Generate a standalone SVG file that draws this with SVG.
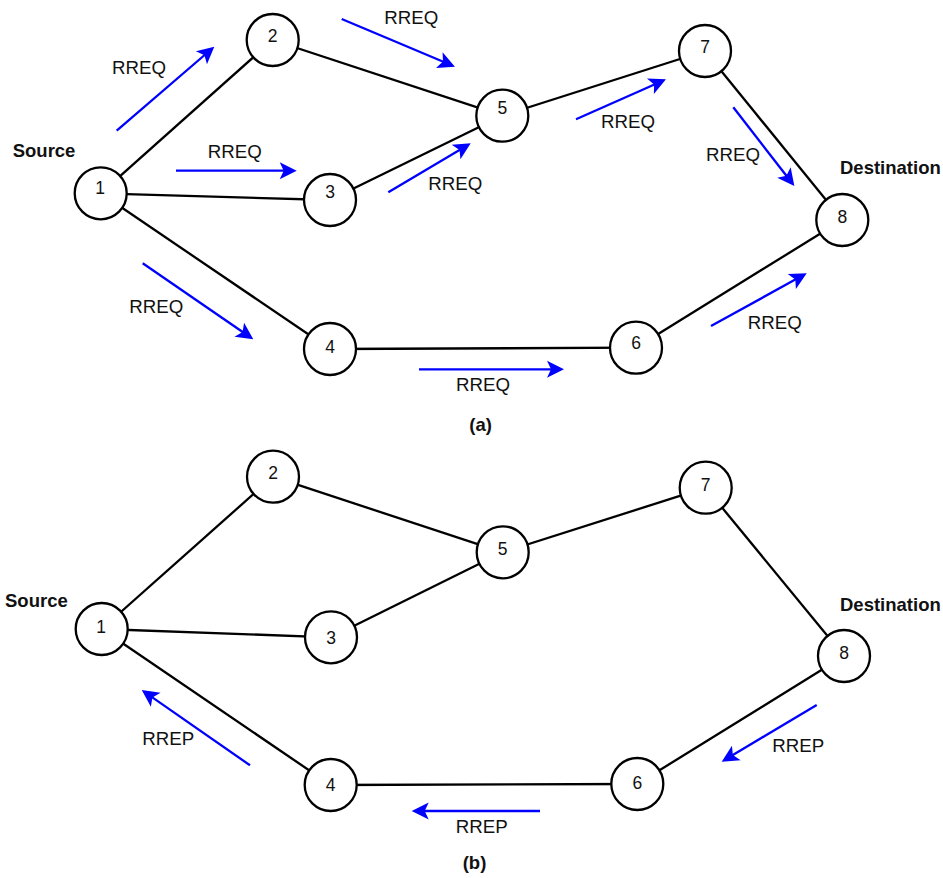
<svg xmlns="http://www.w3.org/2000/svg" width="943" height="878" viewBox="0 0 943 878">
  <style>
    .link { stroke: #000; stroke-width: 2.3; fill: none; }
    .msg { stroke: #0000FF; stroke-width: 2.3; fill: none; marker-end: url(#head); }
    .node circle { fill: #fff; stroke: #000; stroke-width: 2.3; }
    .node text { font-family: "Liberation Sans", Arial, sans-serif; font-size: 17.5px; fill: #111; text-anchor: middle; }
    .lbl { font-family: "Liberation Sans", Arial, sans-serif; font-size: 18.7px; fill: #111; }
    .role { font-family: "Liberation Sans", Arial, sans-serif; font-size: 18.5px; font-weight: bold; fill: #111; }
  </style>
  <defs>
    <marker id="head" markerUnits="userSpaceOnUse" orient="auto" refX="0" refY="0" markerWidth="20" markerHeight="20" viewBox="-6 -10 20 20" overflow="visible">
      <path d="M12,0 L-5,-8.5 L-1,0 L-5,8.5 Z" fill="#0000FF"/>
    </marker>
  </defs>
  <rect width="943" height="878" fill="#fff"/>

  <!-- (a) route request flooding -->
  <g id="links-a">
    <line class="link" x1="100.7" y1="193.3" x2="272.7" y2="40"/>
    <line class="link" x1="100.7" y1="193.3" x2="330" y2="200"/>
    <line class="link" x1="100.7" y1="193.3" x2="330" y2="349"/>
    <line class="link" x1="272.7" y1="40" x2="502.3" y2="115.7"/>
    <line class="link" x1="330" y1="200" x2="502.3" y2="115.7"/>
    <line class="link" x1="502.3" y1="115.7" x2="705" y2="51"/>
    <line class="link" x1="705" y1="51" x2="842.3" y2="220"/>
    <line class="link" x1="330" y1="349" x2="636" y2="347.7"/>
    <line class="link" x1="636" y1="347.7" x2="842.3" y2="220"/>
  </g>
  <g id="messages-a">
    <line class="msg" x1="116.7" y1="130.7" x2="205.2" y2="54.5"/>
    <line class="msg" x1="176" y1="170.7" x2="284.7" y2="170.7"/>
    <line class="msg" x1="341.7" y1="19" x2="443.9" y2="62.0"/>
    <line class="msg" x1="388.3" y1="192.3" x2="460.4" y2="149.4"/>
    <line class="msg" x1="576" y1="119.3" x2="655.0" y2="84.2"/>
    <line class="msg" x1="733.3" y1="107.3" x2="787.0" y2="176.5"/>
    <line class="msg" x1="142.7" y1="263.3" x2="243.4" y2="332.5"/>
    <line class="msg" x1="419" y1="369.3" x2="552" y2="369.3"/>
    <line class="msg" x1="711" y1="326" x2="796.2" y2="279.1"/>
  </g>
  <g id="nodes-a">
    <g id="a-n1" class="node"><circle cx="100.7" cy="193.3" r="26"/><text x="100" y="194.3">1</text></g>
    <g id="a-n2" class="node"><circle cx="272.7" cy="40" r="26"/><text x="272.7" y="42.3">2</text></g>
    <g id="a-n3" class="node"><circle cx="330" cy="200" r="26"/><text x="330" y="198">3</text></g>
    <g id="a-n4" class="node"><circle cx="330" cy="349" r="26"/><text x="330" y="352.6">4</text></g>
    <g id="a-n5" class="node"><circle cx="502.3" cy="115.7" r="26"/><text x="502.3" y="114.3">5</text></g>
    <g id="a-n6" class="node"><circle cx="636" cy="347.7" r="26"/><text x="636" y="349.3">6</text></g>
    <g id="a-n7" class="node"><circle cx="705" cy="51" r="26"/><text x="705" y="53.3">7</text></g>
    <g id="a-n8" class="node"><circle cx="842.3" cy="220" r="26"/><text x="842.3" y="223">8</text></g>
  </g>
  <g id="labels-a">
    <text class="role" x="12.7" y="157">Source</text>
    <text class="role" x="840" y="173.7">Destination</text>
    <text class="lbl" x="112" y="73.5">RREQ</text>
    <text class="lbl" x="207.7" y="157.5">RREQ</text>
    <text class="lbl" x="384.3" y="23.5">RREQ</text>
    <text class="lbl" x="428.3" y="189.5">RREQ</text>
    <text class="lbl" x="601" y="128">RREQ</text>
    <text class="lbl" x="706" y="161">RREQ</text>
    <text class="lbl" x="129.3" y="313">RREQ</text>
    <text class="lbl" x="456" y="391">RREQ</text>
    <text class="lbl" x="747.7" y="329">RREQ</text>
    <text class="role" x="469.3" y="431">(a)</text>
  </g>

  <!-- (b) route reply along the reverse path -->
  <g id="links-b">
    <line class="link" x1="101.7" y1="629" x2="273" y2="476.7"/>
    <line class="link" x1="101.7" y1="629" x2="331" y2="637.3"/>
    <line class="link" x1="101.7" y1="629" x2="330.7" y2="785"/>
    <line class="link" x1="273" y1="476.7" x2="502.7" y2="552.3"/>
    <line class="link" x1="331" y1="637.3" x2="502.7" y2="552.3"/>
    <line class="link" x1="502.7" y1="552.3" x2="705.7" y2="487.7"/>
    <line class="link" x1="705.7" y1="487.7" x2="844" y2="656"/>
    <line class="link" x1="330.7" y1="785" x2="637.3" y2="784"/>
    <line class="link" x1="637.3" y1="784" x2="844" y2="656"/>
  </g>
  <g id="messages-b">
    <line class="msg" x1="250" y1="765.3" x2="151.6" y2="696.9"/>
    <line class="msg" x1="540" y1="811" x2="423.7" y2="811"/>
    <line class="msg" x1="816.7" y1="705" x2="732.0" y2="755.5"/>
  </g>
  <g id="nodes-b">
    <g id="b-n1" class="node"><circle cx="101.7" cy="629" r="26"/><text x="101" y="632.6">1</text></g>
    <g id="b-n2" class="node"><circle cx="273" cy="476.7" r="26"/><text x="273" y="479.1">2</text></g>
    <g id="b-n3" class="node"><circle cx="331" cy="637.3" r="26"/><text x="331" y="643.5">3</text></g>
    <g id="b-n4" class="node"><circle cx="330.7" cy="785" r="26"/><text x="330.7" y="790.5">4</text></g>
    <g id="b-n5" class="node"><circle cx="502.7" cy="552.3" r="26"/><text x="502.7" y="554.6">5</text></g>
    <g id="b-n6" class="node"><circle cx="637.3" cy="784" r="26"/><text x="637.3" y="789.1">6</text></g>
    <g id="b-n7" class="node"><circle cx="705.7" cy="487.7" r="26"/><text x="705.7" y="491.3">7</text></g>
    <g id="b-n8" class="node"><circle cx="844" cy="656" r="26"/><text x="844" y="659.3">8</text></g>
  </g>
  <g id="labels-b">
    <text class="role" x="5" y="606.7">Source</text>
    <text class="role" x="840" y="610.7">Destination</text>
    <text class="lbl" x="142.3" y="745">RREP</text>
    <text class="lbl" x="455.7" y="833.3">RREP</text>
    <text class="lbl" x="772.3" y="751.7">RREP</text>
    <text class="role" x="462.7" y="869">(b)</text>
  </g>
</svg>
